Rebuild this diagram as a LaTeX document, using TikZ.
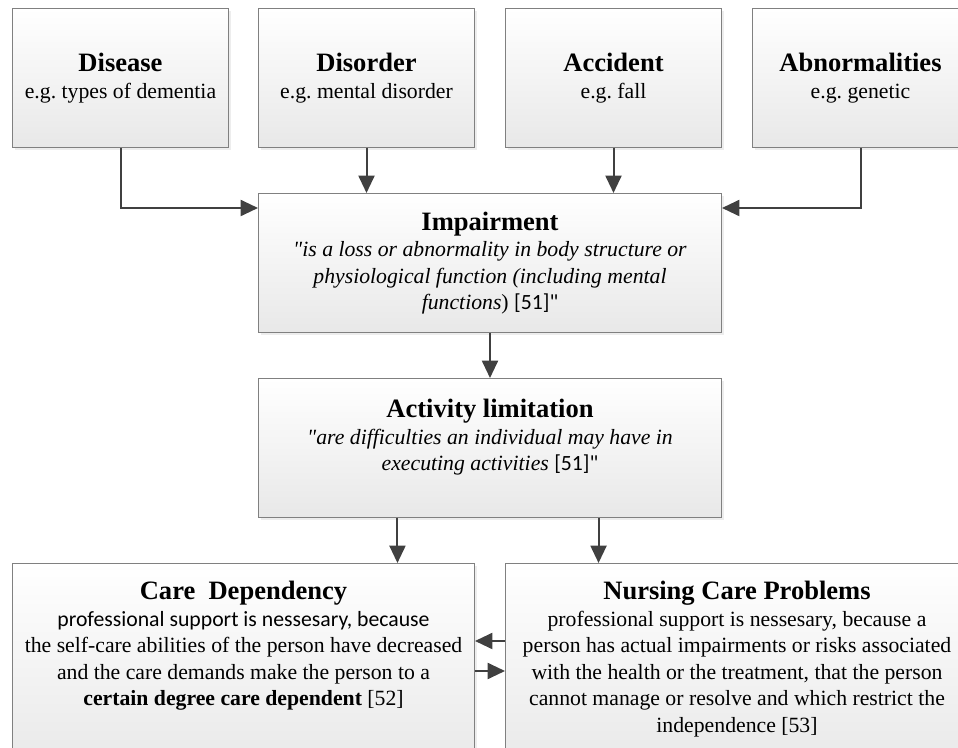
\documentclass[tikz,border=0pt]{standalone}
\usepackage{fontspec}
\setmainfont{Liberation Serif}[Ligatures=TeXOff]
\newfontfamily\calibri{Carlito}[Ligatures=TeXOff]
\usetikzlibrary{arrows.meta,shadows}
\frenchspacing
\newcommand{\titlefont}{\fontsize{19.9}{24}\selectfont\bfseries}
\newcommand{\bodyfont}{\fontsize{16.3}{19.9}\selectfont}
\definecolor{arrowgray}{HTML}{404040}
\definecolor{boxline}{HTML}{808080}
\tikzset{
	box/.style={draw=boxline, line width=0.75pt, top color=white, bottom color=black!9,
		drop shadow={shadow xshift=2pt, shadow yshift=-2pt, fill=black!14},
		anchor=north west, inner sep=0pt, align=center, font=\bodyfont},
	boxtext/.style={anchor=north, inner sep=0pt, align=center, font=\bodyfont},
	arr/.style={draw=arrowgray, line width=1.5pt, -{Triangle[width=12pt,length=13pt]}}
}
\begin{document}
\begin{tikzpicture}[x=0.75pt,y=-0.75pt]
	\useasboundingbox (0,0) rectangle (958,748);
	% causes
	\foreach \x/\name/\cause/\egtext in {12/disease/Disease/types of dementia,258/disorder/Disorder/mental disorder,505/accident/Accident/fall,752/abnorm/Abnormalities/genetic}{
		\node[box, minimum width=162pt, minimum height=104.25pt] (\name) at (\x,8) {{\titlefont \cause}\\ e.g. \egtext};
	}
	\node[box, minimum width=347.25pt, minimum height=104.25pt] (impair) at (258,193)
		{{\titlefont Impairment}\\ \textit{"is a loss or abnormality in body structure or}\\ \textit{physiological function (including mental}\\ \textit{functions}) {\calibri [51]"}};
	\node[box, minimum width=347.25pt, minimum height=104.25pt] (activity) at (258,378) {};
	\node[boxtext] (activitytext) at ([yshift=-15.75pt]activity.north)
		{{\titlefont Activity limitation}\\ \textit{"are difficulties an individual may have in}\\ \textit{executing activities} {\calibri [51]"}};
	% consequences
	\node[box, minimum width=346.5pt, minimum height=155pt] (care) at (12,563) {};
	\node[box, minimum width=347.25pt, minimum height=155pt] (nursing) at (505,563) {};
	\node[boxtext] (caretext) at ([yshift=-13.5pt]care.north)
		{{\titlefont Care\ \ Dependency}\\ {\calibri professional support is nessesary, because}\\ the self-care abilities of the person have decreased\\ and the care demands make the person to a\\ \textbf{certain degree care dependent} [52]};
	\node[boxtext] (nursingtext) at ([yshift=-13.5pt]nursing.north)
		{{\titlefont Nursing Care Problems}\\ professional support is nessesary, because a\\ person has actual impairments or risks associated\\ with the health or the treatment, that the person\\ cannot manage or resolve and which restrict the\\ independence [53]};
	% arrows
	\draw[arr] (disease.south) |- ([yshift=-11.25pt]impair.north west);
	\draw[arr] (abnorm.south) |- ([yshift=-11.25pt]impair.north east);
	\draw[arr] (disorder.south) -- (disorder.south |- impair.north);
	\draw[arr] (accident.south) -- (accident.south |- impair.north);
	\draw[arr] (impair) -- (activity);
	\draw[arr] ([xshift=-69.4pt]activity.south) coordinate (split1) -- (split1 |- care.north);
	\draw[arr] ([xshift=81.4pt]activity.south) coordinate (split2) -- (split2 |- nursing.north);
	\draw[arr] ([yshift=-58.5pt]nursing.north west) coordinate (back) -- (back -| care.east);
	\draw[arr] ([yshift=-81pt]care.north east) coordinate (fwd) -- (fwd -| nursing.west);
\end{tikzpicture}
\end{document}
